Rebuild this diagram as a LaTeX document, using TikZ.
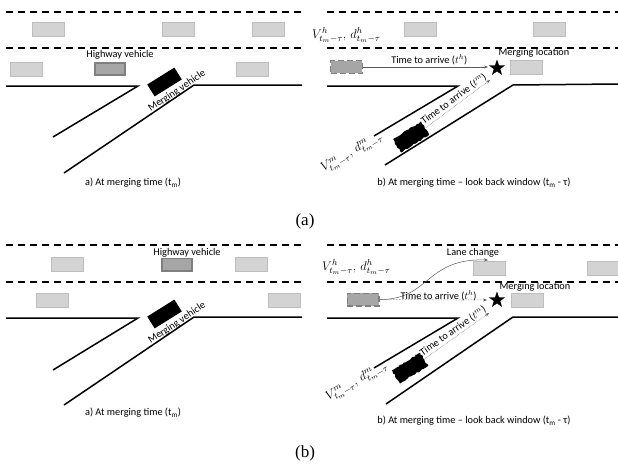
\documentclass[tikz,border=0pt]{standalone}
\usepackage{fix-cm}
\usepackage{fontspec}
\setmainfont{Carlito}
\newfontfamily\capfont{Liberation Serif}
\usetikzlibrary{shapes.geometric,arrows.meta,decorations.pathmorphing}
\definecolor{lightcar}{HTML}{D3D3D3}
\definecolor{carborder}{HTML}{BEBEBE}
\definecolor{hvfill}{HTML}{A6A6A6}
\definecolor{hvborder}{HTML}{7F7F7F}
\definecolor{arrowgray}{HTML}{5A5A5A}
\begin{document}
\pgfmathsetseed{11}
\begin{tikzpicture}[x=1pt,y=-1pt,
  lane/.style={dash pattern=on 7pt off 5pt, line width=1.3pt},
  road/.style={line width=1.5pt},
  lcar/.style={draw=carborder, fill=lightcar, line width=0.6pt, minimum width=32pt, minimum height=14pt, inner sep=0pt},
  hvcar/.style={lcar, draw=hvborder, fill=hvfill, line width=1.6pt, minimum width=30.4pt, minimum height=12.4pt},
  ghost/.style={lcar, draw=hvborder, fill=hvfill, line width=1.3pt, dash pattern=on 6pt off 3pt, minimum width=31.7pt, minimum height=12.7pt},
  mcar/.style={fill=black, minimum width=32pt, minimum height=14pt, inner sep=0pt, rotate=32},
  rcar/.style={minimum width=33pt, minimum height=15pt, inner sep=0pt, rotate=32},
  rough/.style={fill=black, decorate, decoration={random steps, segment length=2pt, amplitude=0.8pt}},
  lbl/.style={font=\fontsize{10.3}{12}\selectfont, inner sep=0pt},
  mlbl/.style={font=\fontsize{12.5}{15}\selectfont, inner sep=0pt},
  tarr/.style={draw=arrowgray, line width=0.5pt, -{Stealth[length=4pt,width=3pt]}},
  darr/.style={tarr, densely dotted},
  starnode/.style={star, star points=5, star point ratio=2.5, fill=black, inner sep=0pt, minimum size=17pt},
  capt/.style={font=\capfont\fontsize{17}{20}\selectfont, inner sep=0pt}]
\useasboundingbox (0,0) rectangle (618,466);

% ================= Figure (a) =================
% --- left panel
\draw[lane] (6,12) -- (302,12);
\draw[lane] (6,48) -- (302,48);
\node[lcar] (a1) at (48,29) {};
\node[lcar] (a2) at (178.5,29) {};
\node[lcar] (a3) at (268,29) {};
\node[lcar] (a4) at (26,69) {};
\node[hvcar] (ahv) at (110,69) {};
\node[lcar] (a5) at (252,69) {};
\node[lbl] (ahvl) at (120,55) {Highway vehicle};
\draw[road] (6,86) -- (138,86) -- (53,137);
\draw[road] (302,85) -- (194,85) -- (64,173);
\node[mcar] (amv) at (164.5,82) {};
\node[lbl, rotate=34] (amvl) at (177,91) {Merging vehicle};
\node[lbl] (acapl) at (133,183) {a) At merging time (t\textsubscript{m})};
% --- right panel
\draw[lane] (327,12) -- (618,12);
\draw[lane] (327,48) -- (618,48);
\node[lcar] (b1) at (420,29) {};
\node[lcar] (b2) at (549,29) {};
\node[lcar] (b3) at (526.5,67) {};
\node[ghost] (bg) at (346.5,67) {};
\node[mlbl, anchor=west] (bvh) at (312,35) {$V^{h}_{t_m-\tau},\, d^{h}_{t_m-\tau}$};
\node[starnode] (bst) at (497,68) {};
\node[lbl] (bml) at (534,53) {Merging location};
\coordinate (bth) at (488,67);
\draw[tarr] (bg.east) -- node[lbl, pos=0.53, above=2pt] {Time to arrive ($t^h$)} (bth);
\draw[road] (327,86) -- (458,86) -- (374,136);
\draw[road] (618,84) -- (513,85) -- (385,165);
\node[rcar] (brc) at (411,137) {};
\fill[rough] (brc.north west) -- (brc.north east) -- (brc.south east) -- (brc.south west) -- cycle;
\coordinate (btm) at (490,80);
\draw[darr] (brc.east) -- node[lbl, sloped, above=1.5pt] {Time to arrive ($t^m$)} (btm);
\node[mlbl, rotate=30] (bvm) at (352,153) {$V^{m}_{t_m-\tau},\, d^{m}_{t_m-\tau}$};
\node[lbl] (bcapl) at (474,183) {b) At merging time – look back window (t\textsubscript{m} - τ)};
\node[capt] (capA) at (305,221) {(a)};

% ================= Figure (b) =================
% --- left panel
\draw[lane] (6,245) -- (302,245);
\draw[lane] (6,282) -- (302,282);
\node[lcar] (c1) at (67.5,264.5) {};
\node[hvcar] (chv) at (177,264.5) {};
\node[lcar] (c3) at (251,264.5) {};
\node[lcar] (c4) at (52,300) {};
\node[lcar] (c5) at (284,300) {};
\node[lbl] (chvl) at (187,253) {Highway vehicle};
\draw[road] (6,318) -- (138,318) -- (53,370);
\draw[road] (302,317) -- (194,317) -- (64,405);
\node[mcar] (cmv) at (164.5,314) {};
\node[lbl, rotate=34] (cmvl) at (177,323) {Merging vehicle};
\node[lbl] (ccapl) at (133,413) {a) At merging time (t\textsubscript{m})};
% --- right panel
\draw[lane] (327,245) -- (618,245);
\draw[lane] (327,282) -- (618,282);
\node[lcar] (d1) at (489,268.5) {};
\node[lcar] (d2) at (603,268.5) {};
\node[lcar] (d3) at (527.5,300) {};
\node[ghost] (dg) at (363,299.5) {};
\node[mlbl, anchor=west] (dvh) at (322,267) {$V^{h}_{t_m-\tau},\, d^{h}_{t_m-\tau}$};
\node[lbl] (dlc) at (473,253) {Lane change};
\coordinate (dlct) at (488,260);
\draw[tarr] (dg.east) .. controls (430,300) and (425,258) .. (dlct);
\node[starnode] (dst) at (497,300) {};
\node[lbl] (dml) at (535,287) {Merging location};
\coordinate (dth) at (487,300);
\draw[darr] (dg.east) -- node[lbl, pos=0.55, above=-1pt] {Time to arrive ($t^h$)} (dth);
\draw[road] (327,318) -- (458,318) -- (374,368);
\draw[road] (618,317) -- (513,317) -- (386,404);
\node[rcar] (drc) at (410,368) {};
\fill[rough] (drc.north west) -- (drc.north east) -- (drc.south east) -- (drc.south west) -- cycle;
\coordinate (dtm) at (489,313);
\draw[darr] (drc.east) -- node[lbl, sloped, above=1.5pt] {Time to arrive ($t^m$)} (dtm);
\node[mlbl, rotate=29] (dvm) at (357,382) {$V^{m}_{t_m-\tau},\, d^{m}_{t_m-\tau}$};
\node[lbl] (dcapl) at (474,421) {b) At merging time – look back window (t\textsubscript{m} - τ)};
\node[capt] (capB) at (305,453) {(b)};
\end{tikzpicture}
\end{document}
